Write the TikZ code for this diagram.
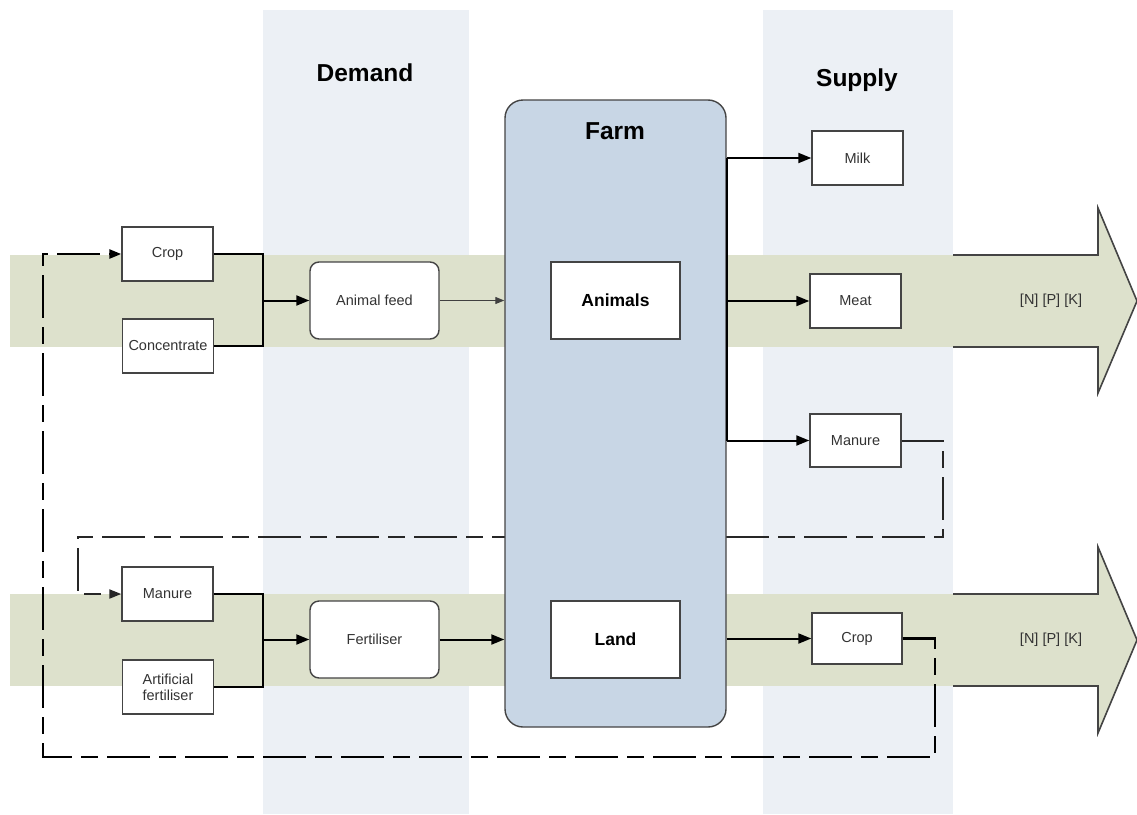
\documentclass[tikz,border=0pt]{standalone}
\usepackage{fontspec}
\setmainfont{Liberation Sans}
\usetikzlibrary{arrows.meta}
\definecolor{colbg}{HTML}{ECF0F5}
\definecolor{bandbg}{HTML}{DDE1CC}
\definecolor{farmbg}{HTML}{C8D6E5}
\definecolor{edge}{HTML}{444444}
\definecolor{txt}{HTML}{333333}
\newcommand{\lblfont}{\fontsize{14.5}{17}\selectfont}
\newcommand{\corefont}{\fontsize{17.5}{20}\selectfont\bfseries}
\newcommand{\headfont}{\fontsize{24.5}{28}\selectfont\bfseries}
\begin{document}
\begin{tikzpicture}[x=1pt,y=-1pt,
  item/.style={draw=edge, line width=1.4pt, fill=white, minimum width=91pt,
    minimum height=54pt, inner sep=0pt, font=\lblfont, text=txt, align=center},
  softitem/.style={item, rounded corners=9pt, minimum width=129pt, minimum height=77pt},
  core/.style={item, minimum width=129pt, minimum height=77pt, font=\corefont, text=black},
  heading/.style={font=\headfont, text=black},
  flow/.style={line width=2pt, -{Triangle[length=13pt,width=10pt]}},
  link/.style={line width=2pt},
  loopline/.style={line width=2.4pt, dash pattern=on 43pt off 9pt on 17pt off 9pt,
    -{Triangle[length=12pt,width=9pt]}},
  band/.style={fill=bandbg},
  outline/.style={draw=edge, line width=1.6pt, line join=miter},
]
\useasboundingbox (0,0) rectangle (1137,814);

% demand and supply columns
\fill[colbg] (263,10) rectangle (469,814);
\fill[colbg] (763,10) rectangle (953,814);

% nutrient flow bands ending in broad arrows
\fill[band] (10,255) rectangle (953,347);
\fill[band] (953,255) -- (1098,255) -- (1098,208) -- (1137,301) -- (1098,393) -- (1098,347) -- (953,347) -- cycle;
\draw[outline] (953,255) -- (1098,255) -- (1098,208) -- (1137,301) -- (1098,393) -- (1098,347) -- (953,347);
\fill[band] (10,594) rectangle (953,686);
\fill[band] (953,594) -- (1098,594) -- (1098,547) -- (1137,640) -- (1098,733) -- (1098,686) -- (953,686) -- cycle;
\draw[outline] (953,594) -- (1098,594) -- (1098,547) -- (1137,640) -- (1098,733) -- (1098,686) -- (953,686);

\node[heading] (demand) at (365,73) {Demand};
\node[heading] (supply) at (857,80) {Supply};
\node[font=\lblfont, text=txt] (npkA) at (1051,301) {[N] [P] [K]};
\node[font=\lblfont, text=txt] (npkB) at (1051,640) {[N] [P] [K]};

% inputs
\node[item] (cropA) at (167.5,254) {Crop};
\node[item] (conc) at (168,346) {Concentrate};
\node[softitem] (feed) at (374.5,300.5) {Animal feed};
\node[item] (manA) at (167.5,594) {Manure};
\node[item, font=\fontsize{14.5}{16}\selectfont] (art) at (168,687) {Artificial\\fertiliser};
\node[softitem] (fert) at (374.5,639.5) {Fertiliser};

% outputs
\node[item] (milk) at (857.5,158) {Milk};
\node[item] (meat) at (855.5,301) {Meat};
\node[item, minimum height=53pt] (manB) at (855.5,440.5) {Manure};
\node[item, minimum width=90pt, minimum height=51pt] (cropB) at (857,638.5) {Crop};

% recycling loops (behind the farm)
\coordinate (loopSE) at (935,757);
\coordinate (loopNW) at (43,254);
\coordinate (manSE) at (943,537);
\coordinate (manNW) at (78,537);
\draw[loopline] (cropB.east) -| (loopSE) -| (loopNW) -- (cropA.west);
\draw[loopline, line width=2pt, draw=black!85] (manB.east) -| (manSE) -- (manNW) |- (manA.west);

% the farm
\node[draw=edge, line width=1.4pt, fill=farmbg, rounded corners=18pt,
  minimum width=221pt, minimum height=627pt, inner sep=0pt] (farm) at (615.5,413.5) {};
\node[heading] (farmtitle) at (615,131) {Farm};
\node[core] (animals) at (615.5,300.5) {Animals};
\node[core] (land) at (615.5,639.5) {Land};

% feed side
\coordinate (jTop) at (263,300.5);
\draw[link] (cropA.east) -| (jTop);
\draw[link] (conc.east) -| (jTop);
\draw[flow] (jTop) -- (feed.west);
\draw[line width=1.2pt, draw=black!75, -{Triangle[length=9pt,width=7pt]}] (feed.east) -- (feed.east -| farm.west);

% fertiliser side
\coordinate (jBot) at (263,639.5);
\draw[link] (manA.east) -| (jBot);
\draw[link] (art.east) -| (jBot);
\draw[flow] (jBot) -- (fert.west);
\draw[flow] (fert.east) -- (fert.east -| farm.west);

% products
\draw[link] (milk.west -| farm.east) -- (manB.west -| farm.east);
\draw[flow] (milk.west -| farm.east) -- (milk.west);
\draw[flow] (meat.west -| farm.east) -- (meat.west);
\draw[flow] (manB.west -| farm.east) -- (manB.west);
\draw[flow] (cropB.west -| farm.east) -- (cropB.west);
\end{tikzpicture}
\end{document}
